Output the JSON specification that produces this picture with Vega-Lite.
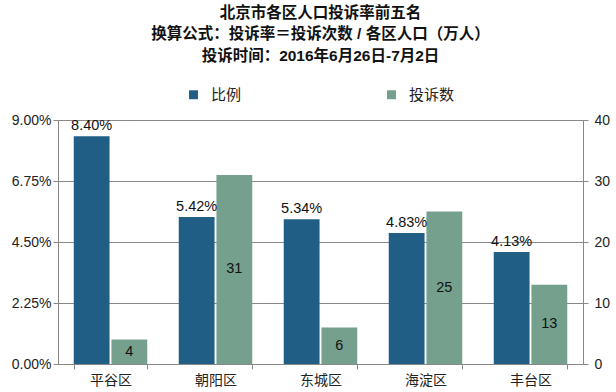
{
  "$schema": "https://vega.github.io/schema/vega-lite/v6.json",
  "width": 525,
  "height": 244,
  "autosize": {"type": "none"},
  "padding": {"left": 58, "top": 120, "right": 33, "bottom": 28},
  "background": "white",
  "title": {
    "text": ["北京市各区人口投诉率前五名", "换算公式：投诉率＝投诉次数 / 各区人口（万人）", "投诉时间：2016年6月26日-7月2日"],
    "fontSize": 15.5,
    "fontWeight": "bold",
    "lineHeight": 21.5,
    "color": "#111111",
    "anchor": "middle",
    "offset": 23,
    "font": "Liberation Sans, Noto Sans CJK SC"
  },
  "config": {
    "font": "Liberation Sans, Noto Sans CJK SC",
    "view": {"stroke": null},
    "axis": {"labelFontSize": 14, "labelColor": "#222222", "domainColor": "#888888", "tickColor": "#888888", "gridColor": "#888888", "title": null}
  },
  "data": {
    "values": [
      {"区": "平谷区", "系列": "比例", "值": 0.0840},
      {"区": "朝阳区", "系列": "比例", "值": 0.0542},
      {"区": "东城区", "系列": "比例", "值": 0.0534},
      {"区": "海淀区", "系列": "比例", "值": 0.0483},
      {"区": "丰台区", "系列": "比例", "值": 0.0413},
      {"区": "平谷区", "系列": "投诉数", "值": 4},
      {"区": "朝阳区", "系列": "投诉数", "值": 31},
      {"区": "东城区", "系列": "投诉数", "值": 6},
      {"区": "海淀区", "系列": "投诉数", "值": 25},
      {"区": "丰台区", "系列": "投诉数", "值": 13}
    ]
  },
  "encoding": {
    "x": {
      "field": "区",
      "type": "nominal",
      "sort": ["平谷区", "朝阳区", "东城区", "海淀区", "丰台区"],
      "scale": {"paddingInner": 0.3, "paddingOuter": 0.15},
      "axis": {"labelAngle": 0, "tickBand": "extent", "tickSize": 5, "labelPadding": 4, "domainColor": "#888888"}
    },
    "xOffset": {
      "field": "系列",
      "type": "nominal",
      "scale": {"domain": ["比例", "投诉数"], "paddingInner": 0.05}
    }
  },
  "layer": [
    {
      "transform": [{"filter": "datum['系列'] === '比例'"}],
      "mark": {"type": "bar"},
      "encoding": {
        "y": {
          "field": "值",
          "type": "quantitative",
          "scale": {"domain": [0, 0.09], "nice": false},
          "axis": {"orient": "left", "values": [0, 0.0225, 0.045, 0.0675, 0.09], "format": ".2%", "grid": true, "tickSize": 5, "labelPadding": 2}
        },
        "color": {
          "field": "系列",
          "type": "nominal",
          "scale": {"domain": ["比例", "投诉数"], "range": ["#215e85", "#74a08d"]},
          "legend": {
            "orient": "none",
            "legendX": 128,
            "legendY": -33,
            "direction": "horizontal",
            "title": null,
            "symbolType": "square",
            "symbolSize": 80,
            "labelFontSize": 15,
            "labelColor": "#222222",
            "labelOffset": 10,
            "columnPadding": 142
          }
        }
      }
    },
    {
      "transform": [{"filter": "datum['系列'] === '投诉数'"}],
      "mark": {"type": "bar"},
      "encoding": {
        "y": {
          "field": "值",
          "type": "quantitative",
          "scale": {"domain": [0, 40], "nice": false},
          "axis": {"orient": "right", "values": [0, 10, 20, 30, 40], "grid": false, "tickSize": 5, "labelPadding": 6}
        },
        "color": {"field": "系列", "type": "nominal"}
      }
    },
    {
      "transform": [{"filter": "datum['系列'] === '比例'"}],
      "mark": {"type": "text", "baseline": "bottom", "dy": -3, "fontSize": 14.5, "color": "#111111"},
      "encoding": {
        "y": {"field": "值", "type": "quantitative", "scale": {"domain": [0, 0.09], "nice": false}, "axis": null},
        "text": {"field": "值", "type": "quantitative", "format": ".2%"}
      }
    },
    {
      "transform": [{"filter": "datum['系列'] === '投诉数'"}],
      "mark": {"type": "text", "baseline": "middle", "fontSize": 14.5, "color": "#111111"},
      "encoding": {
        "y": {"field": "值", "type": "quantitative", "scale": {"domain": [0, 80], "nice": false}, "axis": null},
        "text": {"field": "值", "type": "quantitative"}
      }
    }
  ],
  "resolve": {"scale": {"y": "independent"}}
}
